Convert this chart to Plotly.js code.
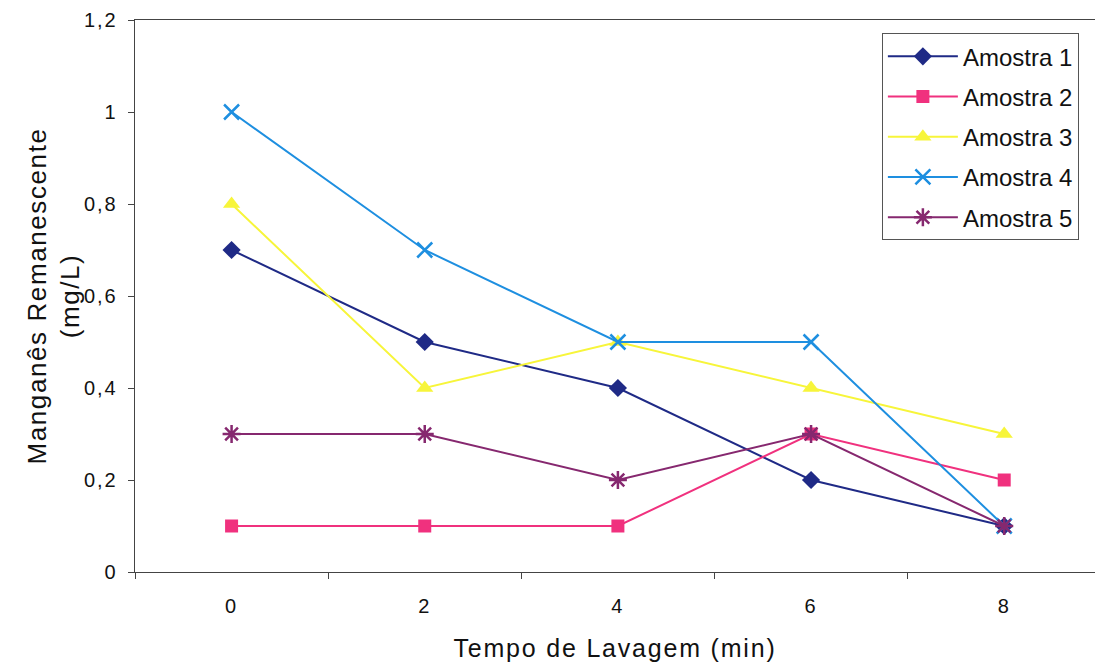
<!DOCTYPE html>
<html>
<head>
<meta charset="utf-8">
<script src="https://cdn.plot.ly/plotly-3.0.1.min.js"></script>
<style>
html,body{margin:0;padding:0;background:#fff;}
#chart{width:1095px;height:666px;}
#chart .xtick text, #chart .ytick text{letter-spacing:2px;}
#chart .g-xtitle text{letter-spacing:1.8px;}
#chart .g-ytitle text{letter-spacing:1.6px;}
</style>
</head>
<body>
<div id="chart"></div>
<script>
var categories = ["0", "2", "4", "6", "8"];
var seriesNames = ["Amostra 1", "Amostra 2", "Amostra 3", "Amostra 4", "Amostra 5"];
var amostra1 = [0.7, 0.5, 0.4, 0.2, 0.1];
var amostra2 = [0.1, 0.1, 0.1, 0.3, 0.2];
var amostra3 = [0.8, 0.4, 0.5, 0.4, 0.3];
var amostra4 = [1.0, 0.7, 0.5, 0.5, 0.1];
var amostra5 = [0.3, 0.3, 0.2, 0.3, 0.1];
var yTickVals = [0, 0.2, 0.4, 0.6, 0.8, 1, 1.2];
var yTickText = ["0", "0,2", "0,4", "0,6", "0,8", "1", "1,2"];

var values = [amostra1, amostra2, amostra3, amostra4, amostra5];
var colors = ["#1f2a86", "#f0317e", "#f7f53a", "#1e8fe0", "#86286f"];
var symbols = ["diamond", "square", "triangle-up", "x-thin", "asterisk"];
var sizes = [14, 13, 15, 15, 15];

var traces = values.map(function (v, i) {
  return {
    x: categories, y: v, name: seriesNames[i], type: "scatter", mode: "lines+markers",
    legendgroup: "g" + i,
    line: {color: colors[i], width: 2},
    marker: {symbol: symbols[i], size: sizes[i], color: colors[i],
             line: {color: colors[i], width: (i >= 3 ? 2.5 : 0)}}
  };
});

var layout = {
  width: 1095, height: 666,
  margin: {l: 135, r: 0, t: 20, b: 94},
  paper_bgcolor: "#fff", plot_bgcolor: "#fff",
  font: {family: "Liberation Sans, Arial, sans-serif", color: "#111", size: 20},
  showlegend: true,
  legend: {x: 0.778, y: 0.976, xanchor: "left", yanchor: "top",
           bordercolor: "#555", borderwidth: 1, bgcolor: "#fff",
           font: {size: 24}, tracegroupgap: 6, itemwidth: 70},
  xaxis: {type: "category", range: [-0.5, 4.47], showline: true, linecolor: "#444", linewidth: 1.3,
          mirror: true, ticks: "outside", ticklen: 6, tickcolor: "#444", tickson: "boundaries",
          showgrid: false, zeroline: false, ticklabelstandoff: 16,
          tickfont: {size: 20},
          title: {text: "Tempo de Lavagem (min)", font: {size: 25}, standoff: 23}},
  yaxis: {range: [0, 1.2], tickvals: yTickVals, ticktext: yTickText, showline: true, linecolor: "#444",
          linewidth: 1.3, ticks: "outside", ticklen: 6, tickcolor: "#444", showgrid: false, zeroline: false,
          tickfont: {size: 20}, ticklabelstandoff: 6,
          title: {text: "Manganês Remanescente<br>(mg/L)", font: {size: 26}, standoff: 2}}
};

Plotly.newPlot("chart", traces, layout, {displayModeBar: false, staticPlot: true});
</script>
</body>
</html>
